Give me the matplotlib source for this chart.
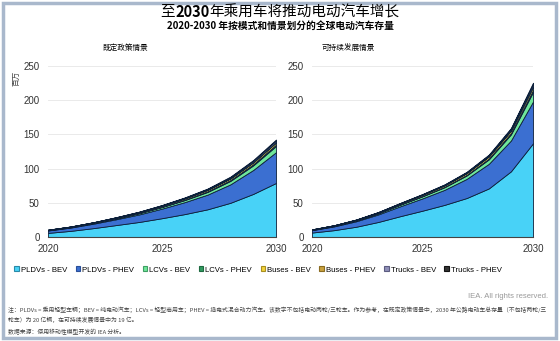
import matplotlib
matplotlib.use("Agg")
from matplotlib import pyplot as plt
from matplotlib.patches import Rectangle

plt.rcParams['font.family'] = ['Liberation Sans', 'Noto Sans CJK SC', 'DejaVu Sans']

years = [2020, 2021, 2022, 2023, 2024, 2025, 2026, 2027, 2028, 2029, 2030]

series_names = ["PLDVs - BEV", "PLDVs - PHEV", "LCVs - BEV", "LCVs - PHEV",
                "Buses - BEV", "Buses - PHEV", "Trucks - BEV", "Trucks - PHEV"]

# 既定政策情景 (millions)
steps_pldv_bev = [6, 9, 13, 17.5, 22, 27.5, 33.5, 40.5, 50, 63, 79]
steps_pldv_phev = [3.5, 4.8, 6.5, 8.5, 11, 14, 17.5, 21.5, 27, 35, 45]
steps_lcv_bev = [0.4, 0.6, 0.9, 1.3, 1.8, 2.3, 3, 3.9, 5, 6.7, 9]
steps_lcv_phev = [0.05, 0.1, 0.15, 0.25, 0.35, 0.5, 0.7, 0.95, 1.25, 1.6, 2]
steps_bus_bev = [0.6, 0.75, 0.9, 1.1, 1.3, 1.5, 1.8, 2.1, 2.4, 2.8, 3.2]
steps_bus_phev = [0.05, 0.06, 0.08, 0.1, 0.12, 0.15, 0.18, 0.21, 0.24, 0.27, 0.3]
steps_truck_bev = [0.02, 0.05, 0.1, 0.2, 0.35, 0.55, 0.8, 1.1, 1.5, 2, 2.5]
steps_truck_phev = [0.01, 0.03, 0.06, 0.12, 0.2, 0.3, 0.45, 0.65, 0.9, 1.2, 1.5]

# 可持续发展情景 (millions)
sds_pldv_bev = [6.5, 10, 15, 22, 30.5, 38.5, 47, 57, 71, 96, 137]
sds_pldv_phev = [3.5, 5.5, 8, 11, 14.5, 18, 22, 28, 36, 45, 61]
sds_lcv_bev = [0.4, 0.7, 1.1, 1.6, 2.3, 3, 3.8, 5, 6.5, 9, 14]
sds_lcv_phev = [0.05, 0.1, 0.2, 0.3, 0.4, 0.55, 0.7, 0.9, 1.2, 1.8, 3]
sds_bus_bev = [0.6, 0.8, 1, 1.2, 1.5, 1.8, 2.1, 2.5, 3, 3.6, 4.6]
sds_bus_phev = [0.05, 0.07, 0.1, 0.13, 0.16, 0.2, 0.25, 0.3, 0.35, 0.4, 0.5]
sds_truck_bev = [0.02, 0.05, 0.1, 0.2, 0.35, 0.5, 0.7, 1, 1.5, 2.2, 3.5]
sds_truck_phev = [0.01, 0.03, 0.07, 0.14, 0.24, 0.35, 0.5, 0.7, 1, 1.3, 2]

colors = ["#48d2f7", "#3b6fd1", "#6fe69a", "#2f9a5f",
          "#f3d23c", "#c9a13e", "#8f8fb8", "#333333"]
edge_colors = ["#2a8aa8", "#2a4f99", "#3f9e63", "#1d6a40",
               "#a88f20", "#8a6c20", "#5c5c80", "#111111"]

W, H = 560, 341
fig = plt.figure(figsize=(W / 100, H / 100), dpi=100)


def px_axes(x0, y_top, x1, y_bottom):
    return fig.add_axes([x0 / W, 1 - y_bottom / H, (x1 - x0) / W, (y_bottom - y_top) / H])


def draw_panel(ax, data):
    ax.stackplot(years, *data, colors=colors, edgecolor="#0b1f3a", linewidth=0.6)
    ax.set_xlim(2020, 2030)
    ax.set_ylim(0, 250)
    ax.set_xticks([2020, 2025, 2030])
    ax.set_yticks([0, 50, 100, 150, 200, 250])
    ax.grid(axis="y", color="#e6e6e6", linewidth=0.6)
    ax.set_axisbelow(True)
    for s in ["top", "right", "left"]:
        ax.spines[s].set_visible(False)
    ax.spines["bottom"].set_color("#444444")
    ax.spines["bottom"].set_linewidth(0.8)
    ax.tick_params(length=0, labelsize=7, colors="#333333")
    ax.tick_params(axis="x", pad=5)
    ax.tick_params(axis="y", pad=6)


ax1 = px_axes(48, 66, 276, 237)
draw_panel(ax1, [steps_pldv_bev, steps_pldv_phev, steps_lcv_bev, steps_lcv_phev,
                 steps_bus_bev, steps_bus_phev, steps_truck_bev, steps_truck_phev])
ax2 = px_axes(312, 66, 533, 237)
draw_panel(ax2, [sds_pldv_bev, sds_pldv_phev, sds_lcv_bev, sds_lcv_phev,
                 sds_bus_bev, sds_bus_phev, sds_truck_bev, sds_truck_phev])

# frame
fig.patches.append(Rectangle((3 / W, 3 / H), (W - 7) / W, (H - 6) / H, transform=fig.transFigure,
                             fill=False, edgecolor="#a9b8cc", linewidth=2.5))

cjk = ['Noto Sans CJK SC', 'DejaVu Sans']

# title with bold "2030" - pieces placed side by side
title_parts = [("至", "normal"), ("2030", "bold"), ("年乘用车将推动电动汽车增长", "normal")]
renderer = fig.canvas.get_renderer()
pieces = []
for s, w in title_parts:
    t = fig.text(0, 1 - 12 / H, s, ha="left", va="center", fontsize=10.5, family=cjk, weight=w)
    pieces.append((t, t.get_window_extent(renderer).width))
total_w = sum(w for _, w in pieces)
x = W / 2 - total_w / 2
for t, w in pieces:
    t.set_x(x / W)
    x += w

fig.text(0.5, 1 - 26 / H, "2020-2030 年按模式和情景划分的全球电动汽车存量", ha="center", va="center",
         fontsize=7, family=cjk, weight="bold")
fig.text(125 / W, 1 - 48 / H, "既定政策情景", ha="center", va="center", fontsize=5.5, family=cjk)
fig.text(348 / W, 1 - 48 / H, "可持续发展情景", ha="center", va="center", fontsize=5.5, family=cjk)
fig.text(16 / W, 1 - 78 / H, "百万", ha="center", va="center", fontsize=5.5, rotation=90,
         family=cjk, color="#444444")

# legend
handles = [Rectangle((0, 0), 1, 1, facecolor=c, edgecolor=e, linewidth=0.8)
           for c, e in zip(colors, edge_colors)]
fig.legend(handles, series_names, loc="center", bbox_to_anchor=(258 / W, 1 - 270 / H),
           ncol=8, frameon=False, fontsize=5.6, handlelength=0.6, handleheight=0.6,
           handletextpad=0.25, columnspacing=1.1)

fig.text(548 / W, 1 - 297 / H, "IEA. All rights reserved.", ha="right", va="center",
         fontsize=5.5, color="#999999")

note1 = ("注：PLDVs = 乘用轻型车辆；BEV = 纯电动汽车；LCVs = 轻型商用车；PHEV = 插电式混合动力汽车。"
         "该数字不包括电动两轮/三轮车。作为参考，在既定政策情景中，2030 年公路电动车总存量（不包括两轮/三")
note2 = "轮车）为 20 亿辆，在可持续发展情景中为 19 亿。"
note3 = "数据来源：使用移动性模型开发的 IEA 分析。"
fig.text(8 / W, 1 - 310 / H, note1, ha="left", va="center", fontsize=4.2, family=cjk, color="#444444")
fig.text(8 / W, 1 - 320 / H, note2, ha="left", va="center", fontsize=4.2, family=cjk, color="#444444")
fig.text(8 / W, 1 - 332 / H, note3, ha="left", va="center", fontsize=4.2, family=cjk, color="#444444")

fig.savefig("out.png", dpi=100)
